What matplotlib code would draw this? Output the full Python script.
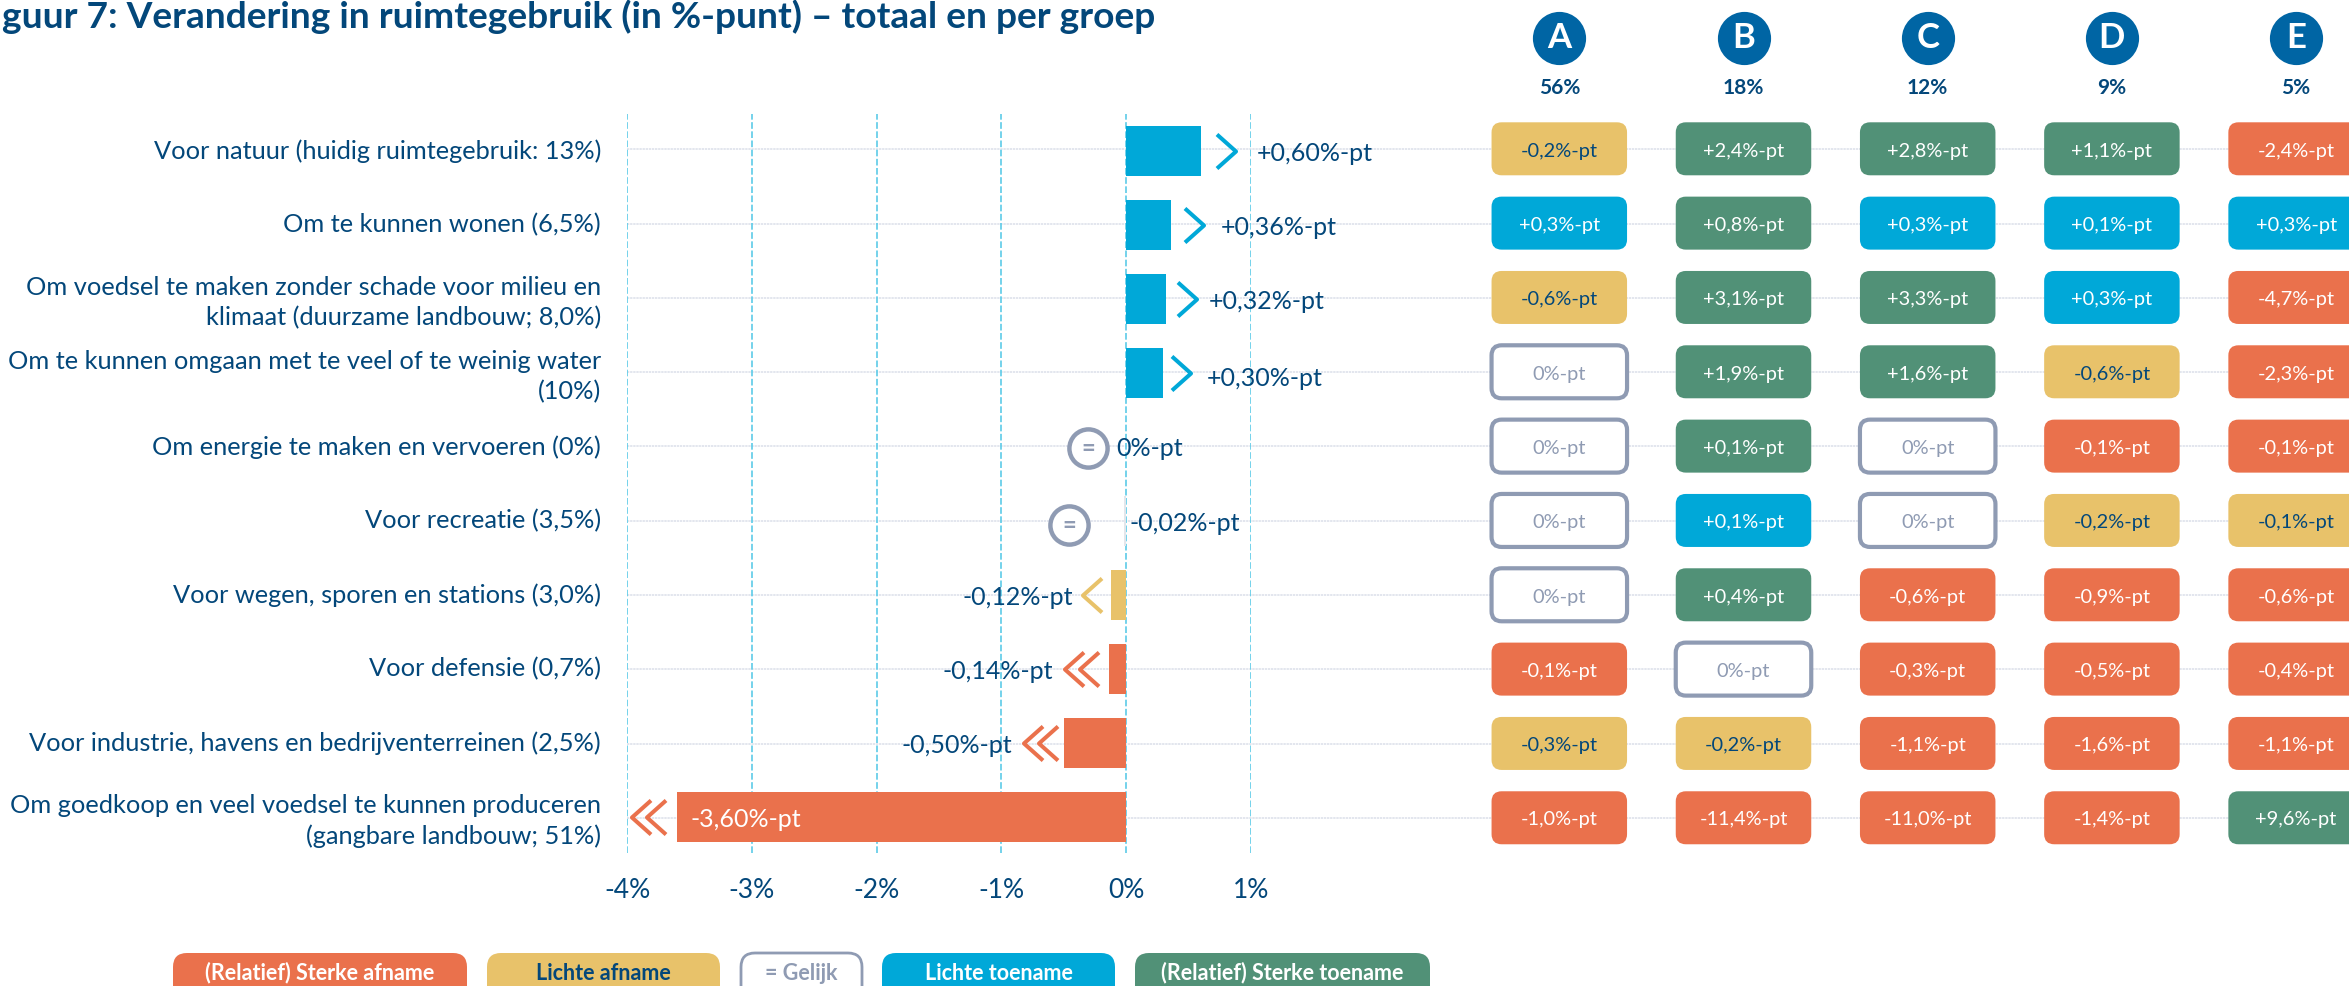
import matplotlib
matplotlib.use('Agg')
import matplotlib.pyplot as plt
from matplotlib.patches import FancyBboxPatch
from matplotlib.path import Path
from matplotlib.transforms import offset_copy

plt.rcParams['font.family'] = ['Lato', 'DejaVu Sans']

W, H = 2349, 986

NAVY = '#03477A'
GREY = '#8F9BB3'
COLORS = {'o': '#EA714C', 'y': '#E8C26A', 'n': '#FFFFFF', 'b': '#00A8D8', 'g': '#519177'}
TEXT_COLORS = {'o': '#FFFFFF', 'y': NAVY, 'n': GREY, 'b': '#FFFFFF', 'g': '#FFFFFF'}

# data
row_labels = [
    'Voor natuur (huidig ruimtegebruik: 13%)',
    'Om te kunnen wonen (6,5%)',
    'Om voedsel te maken zonder schade voor milieu en\nklimaat (duurzame landbouw; 8,0%)',
    'Om te kunnen omgaan met te veel of te weinig water\n(10%)',
    'Om energie te maken en vervoeren (0%)',
    'Voor recreatie (3,5%)',
    'Voor wegen, sporen en stations (3,0%)',
    'Voor defensie (0,7%)',
    'Voor industrie, havens en bedrijventerreinen (2,5%)',
    'Om goedkoop en veel voedsel te kunnen produceren\n(gangbare landbouw; 51%)',
]
totaal = [0.60, 0.36, 0.32, 0.30, 0.0, -0.02, -0.12, -0.14, -0.50, -3.60]
totaal_klasse = ['b', 'b', 'b', 'b', 'n', 'n', 'y', 'o', 'o', 'o']

groepen = ['A', 'B', 'C', 'D', 'E']
groep_aandeel = ['56%', '18%', '12%', '9%', '5%']
groep_a = [-0.2, 0.3, -0.6, 0, 0, 0, 0, -0.1, -0.3, -1.0]
groep_b = [2.4, 0.8, 3.1, 1.9, 0.1, 0.1, 0.4, 0, -0.2, -11.4]
groep_c = [2.8, 0.3, 3.3, 1.6, 0, 0, -0.6, -0.3, -1.1, -11.0]
groep_d = [1.1, 0.1, 0.3, -0.6, -0.1, -0.2, -0.9, -0.5, -1.6, -1.4]
groep_e = [-2.4, 0.3, -4.7, -2.3, -0.1, -0.1, -0.6, -0.4, -1.1, 9.6]
klasse_a = ['y', 'b', 'y', 'n', 'n', 'n', 'n', 'o', 'y', 'o']
klasse_b = ['g', 'g', 'g', 'g', 'g', 'b', 'g', 'n', 'y', 'o']
klasse_c = ['g', 'b', 'g', 'g', 'n', 'n', 'o', 'o', 'o', 'o']
klasse_d = ['g', 'b', 'b', 'y', 'o', 'y', 'o', 'o', 'o', 'o']
klasse_e = ['o', 'b', 'o', 'o', 'o', 'y', 'o', 'o', 'o', 'g']

legend_labels = ['(Relatief) Sterke afname', 'Lichte afname', '= Gelijk',
                 'Lichte toename', '(Relatief) Sterke toename']
legend_klasse = ['o', 'y', 'n', 'b', 'g']

# layout, in pixels
arrow_offset = [25.5, 23.5, 21.5, 17.5, None, None, -19, -20, -15.5, -21]
label_offset = [56, 50, 43, 43.5, -10, 5.5, -38, -55.5, -51.5, 14]
label_drop = [2, 2, 2, 5, 1, 2, 2, 2, 2, 2]
equal_offset = {4: (-38, -1), 5: (-57, -4)}
legend_x = [(173, 467), (487, 720), (741, 862), (882, 1115), (1135, 1430)]


def px_axes(left, top, right, bottom):
    return fig.add_axes([left / W, 1 - bottom / H, (right - left) / W, (bottom - top) / H])


def fmt(v, decimals):
    if v == 0:
        return '0%-pt'
    return f'{v:+.{decimals}f}'.replace('.', ',') + '%-pt'


fig = plt.figure(figsize=(W / 100, H / 100), dpi=100)

# background: title, row lines, legend
bg = px_axes(0, 0, W, H)
bg.set_xlim(0, W)
bg.set_ylim(H, 0)
bg.axis('off')
bg.text(2, 17, 'guur 7: Verandering in ruimtegebruik (in %-punt) – totaal en per groep',
        fontsize=26.7, fontweight='bold', color=NAVY, va='center', ha='left')
for i in range(10):
    y = 149.2 + 74.3 * i
    bg.plot([627, W], [y, y], color='#E3E6EE', lw=1.4, ls=(0, (1.2, 0.4)), zorder=1)

for (x0, x1), lab, k in zip(legend_x, legend_labels, legend_klasse):
    edge = GREY if k == 'n' else COLORS[k]
    bg.add_patch(FancyBboxPatch((x0, 953), x1 - x0, 60, boxstyle='round,pad=0,rounding_size=14',
                                fc=COLORS[k], ec=edge, lw=2 if k == 'n' else 0, zorder=2))
    bg.text((x0 + x1) / 2, 973, lab, color=TEXT_COLORS[k], fontsize=15.5, fontweight='bold',
            ha='center', va='center', zorder=3)

# total bars
ax = px_axes(627, 114, 627 + 5 * 124.75, 853)
ax.patch.set_alpha(0)
ax.set_xlim(-4, 1)
ax.set_ylim(9.486, -0.5)
for s in ax.spines.values():
    s.set_visible(False)
ax.set_axisbelow(True)
ax.xaxis.grid(True, color='#5CCBE8', lw=1.2, ls=(0, (4, 1.5)))
ax.set_xticks([-4, -3, -2, -1, 0, 1])
ax.set_xticklabels(['-4%', '-3%', '-2%', '-1%', '0%', '1%'], fontsize=19, color=NAVY)
ax.set_yticks([r - 0.027 for r in range(10)])
ax.set_yticklabels(row_labels, fontsize=18.3, color=NAVY, ha='right', linespacing=1.39)
ax.tick_params(axis='x', length=0, pad=18)
ax.tick_params(axis='y', length=0, pad=18.7)

bar_colors = [COLORS[k] if k != 'n' else '#E3E6EB' for k in totaal_klasse]
ax.barh(range(10), totaal, height=0.676, color=bar_colors, zorder=3)

right = Path([(-0.56, -1), (0.56, 0), (-0.56, 1)], [Path.MOVETO, Path.LINETO, Path.LINETO])
left = Path([(0.56, -1), (-0.56, 0), (0.56, 1)], [Path.MOVETO, Path.LINETO, Path.LINETO])

for i, v in enumerate(totaal):
    k = totaal_klasse[i]
    lab_color = '#FFFFFF' if i == 9 else NAVY
    ha = 'right' if (v < 0 and i in (6, 7, 8)) else 'left'
    ax.annotate(fmt(v, 2), (v, i), xytext=(label_offset[i] * 0.72, -label_drop[i] * 0.72),
                textcoords='offset points', fontsize=18, color=lab_color, ha=ha, va='center', zorder=5)
    if arrow_offset[i] is not None:
        offsets = [arrow_offset[i]]
        if k == 'o':
            offsets.append(arrow_offset[i] - 15)
        for off in offsets:
            tr = offset_copy(ax.transData, fig=fig, x=off, y=0, units='dots')
            ax.plot([v], [i], marker=right if v > 0 else left, ms=24.5, mew=2.9,
                    mfc='none', mec=COLORS[k], transform=tr, ls='none', zorder=4, clip_on=False)
    if i in equal_offset:
        dx, dy = equal_offset[i]
        tr = offset_copy(ax.transData, fig=fig, x=dx, y=dy, units='dots')
        ax.plot([0], [i], marker='o', ms=27.5, mew=3.2, mfc='white', mec=GREY, transform=tr,
                ls='none', zorder=4, clip_on=False)
        ax.text(0, i, '=', color=GREY, fontsize=17, fontweight='bold', ha='center', va='center',
                transform=tr, zorder=5)

# group tiles
COL_W = 184.2
ROW_H = 74.33
X0, Y0 = 1559.3, 148.8
at = px_axes(1440, 0, W, H)
at.patch.set_alpha(0)
at.axis('off')
at.set_xlim((1440 - X0) / COL_W, (W - X0) / COL_W)
at.set_ylim((H - Y0) / ROW_H, -Y0 / ROW_H)

tw, th = 135.5 / COL_W, 53 / ROW_H
kolommen = zip(range(5), groepen, groep_aandeel,
               [groep_a, groep_b, groep_c, groep_d, groep_e],
               [klasse_a, klasse_b, klasse_c, klasse_d, klasse_e])
for c, naam, aandeel, waarden, klassen in kolommen:
    at.scatter([c], [-1.49], s=1467, color='#0065A4', linewidths=0, clip_on=False)
    at.text(c, -1.49, naam, color='white', fontsize=25, fontweight='bold', ha='center', va='center')
    at.text(c, -0.82, aandeel, color=NAVY, fontsize=15, fontweight='bold', ha='center', va='center')
    for r, (v, k) in enumerate(zip(waarden, klassen)):
        at.add_patch(FancyBboxPatch((c - tw / 2, r - th / 2), tw, th,
                                    boxstyle='round,pad=0,rounding_size=0.055',
                                    mutation_aspect=COL_W / ROW_H, fc=COLORS[k],
                                    ec=GREY if k == 'n' else COLORS[k],
                                    lw=3 if k == 'n' else 0, clip_on=False))
        at.text(c, r + 0.03, fmt(v, 1), color=TEXT_COLORS[k], fontsize=14.4, ha='center', va='center')

fig.savefig('out.png', dpi=100)
